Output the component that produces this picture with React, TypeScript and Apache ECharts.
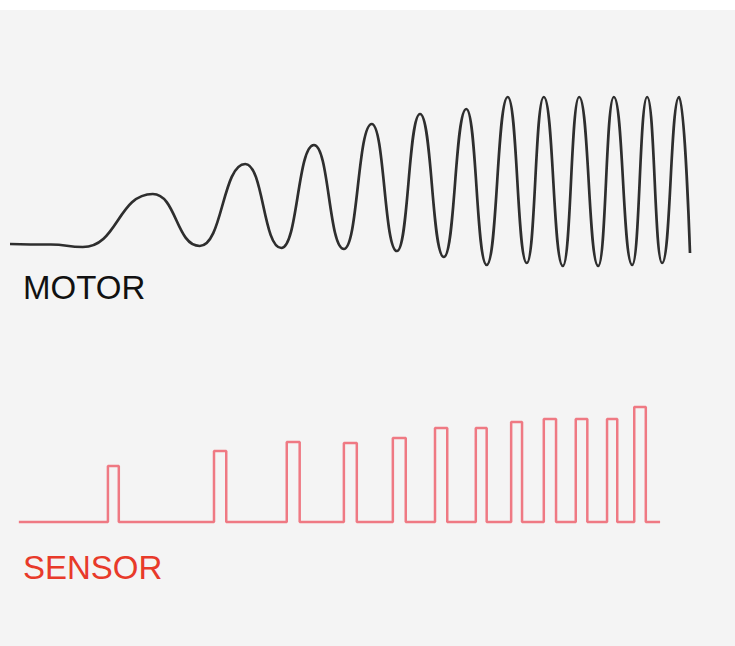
import React, { useEffect, useRef } from "react";
import * as echarts from "echarts";

// Motor signal: extremes [time, amplitude]
const motorTime = [0, 6.0, 10.7, 21.0, 27.9, 34.6, 39.9, 44.7, 49.1, 53.2, 56.9, 60.3, 63.8, 67.1, 70.1, 73.2, 76.0, 78.5, 81.3, 83.7, 86.5, 88.8, 91.5, 93.7, 95.9, 98.4, 100];
const motorValue = [0, -0.05, -0.3, 5.0, -0.2, 8.0, -0.4, 9.9, -0.5, 12.0, -0.7, 13.0, -1.3, 13.5, -2.1, 14.7, -1.9, 14.7, -2.2, 14.7, -2.2, 14.7, -2.1, 14.7, -1.9, 14.7, -0.9];

// Sensor pulses: rising edge time, falling edge time, pulse height
const sensorStart = 1.3;
const sensorEnd = 95.6;
const pulseRise = [14.4, 30.0, 40.7, 49.1, 56.3, 62.5, 68.5, 73.7, 78.5, 83.2, 87.8, 91.8];
const pulseFall = [16.0, 31.8, 42.6, 51.0, 58.2, 64.3, 70.1, 75.3, 80.3, 84.9, 89.3, 93.5];
const pulseHeight = [5.6, 7.1, 8.0, 7.9, 8.4, 9.4, 9.4, 10.0, 10.3, 10.3, 10.3, 11.5];

const labels = { motor: "MOTOR", sensor: "SENSOR" };

export default function App() {
  const ref = useRef<HTMLDivElement>(null);
  useEffect(() => {
    if (!ref.current) return;
    const chart = echarts.init(ref.current, undefined, { renderer: "svg" });

    const motorData = motorTime.map((t, i) => [t, motorValue[i]]);
    const sensorData: number[][] = [[sensorStart, 0]];
    pulseRise.forEach((r, i) => {
      sensorData.push([r, 0], [r, pulseHeight[i]], [pulseFall[i], pulseHeight[i]], [pulseFall[i], 0]);
    });
    sensorData.push([sensorEnd, 0]);

    chart.setOption({
      animation: false,
      backgroundColor: "#f4f4f4",
      grid: [
        { left: 10, width: 680, top: 94, height: 180 },
        { left: 10, width: 680, top: 392, height: 140 },
      ],
      xAxis: [
        { type: "value", gridIndex: 0, min: 0, max: 100, show: false },
        { type: "value", gridIndex: 1, min: 0, max: 100, show: false },
      ],
      yAxis: [
        { type: "value", gridIndex: 0, min: -3, max: 15, show: false },
        { type: "value", gridIndex: 1, min: -1, max: 13, show: false },
      ],
      series: [
        {
          type: "line",
          xAxisIndex: 0,
          yAxisIndex: 0,
          data: motorData,
          smooth: 0.5,
          smoothMonotone: "x",
          showSymbol: false,
          lineStyle: { color: "#2e2e2e", width: 2.7 },
        },
        {
          type: "line",
          xAxisIndex: 1,
          yAxisIndex: 1,
          data: sensorData,
          showSymbol: false,
          lineStyle: { color: "#ee5a66", width: 2.5, opacity: 0.8 },
        },
      ],
      graphic: [
        { type: "rect", left: 0, top: 0, shape: { width: 735, height: 10 }, style: { fill: "#ffffff" }, z: -1 },
        {
          type: "text",
          x: 23,
          y: 287,
          style: { text: labels.motor, fill: "#111111", font: "33px 'Liberation Sans', Arial, sans-serif", verticalAlign: "middle" },
        },
        {
          type: "text",
          x: 23,
          y: 567,
          style: { text: labels.sensor, fill: "#e83a2a", font: "33px 'Liberation Sans', Arial, sans-serif", verticalAlign: "middle" },
        },
      ],
    });
    return () => chart.dispose();
  }, []);
  return <div ref={ref} style={{ position: "fixed", left: 0, top: 0, width: 735, height: 646 }} />;
}
